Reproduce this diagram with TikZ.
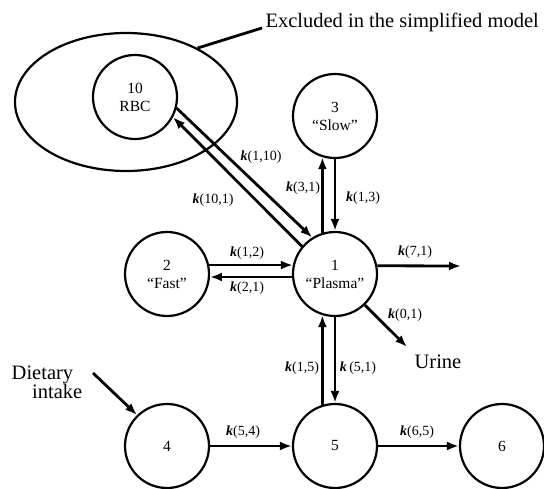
\documentclass[tikz,border=0pt]{standalone}
\usepackage{fontspec}
\setmainfont{Liberation Serif}
\usepackage{tikz}
\usetikzlibrary{arrows.meta}
\tikzset{>={Latex[length=12pt,width=9pt]}}
\usetikzlibrary{shapes.geometric}
\tikzset{
  pool/.style={draw, circle, line width=2.2pt, minimum size=84pt, inner sep=0pt,
    align=center, font=\fontsize{15.5}{18}\selectfont},
  rate/.style={font=\fontsize{14}{16}\selectfont},
  flow/.style={->, line width=2.8pt},
  big/.style={font=\fontsize{20.5}{19}\selectfont}
}
\newcommand{\kk}[1]{\textbf{\textit{k}}(#1)}

\begin{document}
\begin{tikzpicture}[x=1pt, y=-1pt]
    \useasboundingbox (0,0) rectangle (544,489);

    % the excluded RBC pool
    \node[draw, ellipse, line width=2.2pt, minimum width=222pt, minimum height=138pt] (grp) at (126,102) {};
    \node[big, anchor=base west] (excl) at (262,28) {Excluded in the simplified model};
    \draw[line width=2.8pt] (grp.37) -- (excl.base west);

    % pools
    \node[pool] (n10) at (135,97) {10\\RBC};
    \node[pool] (n3) at (335,116) {3\\“Slow”};
    \node[pool] (n1) at (335,274) {1\\“Plasma”};
    \node[pool] (n2) at (167,274) {2\\“Fast”};
    \node[pool] (n4) at (167,446) {4};
    \node[pool] (n5) at (335,446) {5};
    \node[pool] (n6) at (502,446) {6};

    \coordinate (out7) at (461,266);
    \coordinate (urin) at (407,347);
    \coordinate (diet) at (93,373);
    \node[big] (urine) at (438,362) {Urine};
    \node[big, align=left] (dietary) at (47,382) {Dietary\\\quad intake};

    % exchanges
    \draw[flow] (n10.345) -- (n1.122);
    \draw[flow] (n1.140) -- (n10.332);
    \draw[flow] (n1.107) -- (n3.253);
    \draw[flow] (n3.south) -- (n1.north);
    \draw[flow] (n2.12) -- (n1.168);
    \draw[flow] (n1.184) -- (n2.356);
    \draw[flow] (n5.107) -- (n1.253);
    \draw[flow] (n1.south) -- (n5.north);
    \draw[flow] (n1.11) -- (out7);
    \draw[flow] (n1.314) -- (urin);
    \draw[flow] (diet) -- (n4.134);
    \draw[flow] (n4.east) -- (n5.west);
    \draw[flow] (n5.east) -- (n6.west);

    % rate labels
    \begin{scope}[rate]
      \node (l110) at (261,157) {\kk{1,10}};
      \node (l101) at (213,200) {\kk{10,1}};
      \node (l31) at (303,188) {\kk{3,1}};
      \node (l13) at (363,198) {\kk{1,3}};
      \node (l12) at (247,253) {\kk{1,2}};
      \node (l21) at (247,288) {\kk{2,1}};
      \node (l71) at (415,252) {\kk{7,1}};
      \node (l01) at (405,315) {\kk{0,1}};
      \node (l15) at (302,368) {\kk{1,5}};
      \node (l51) at (358,368) {\textbf{\textit{k}}\,(5,1)};
      \node (l54) at (243,432) {\kk{5,4}};
      \node (l65) at (417,432) {\kk{6,5}};
    \end{scope}
\end{tikzpicture}
\end{document}
